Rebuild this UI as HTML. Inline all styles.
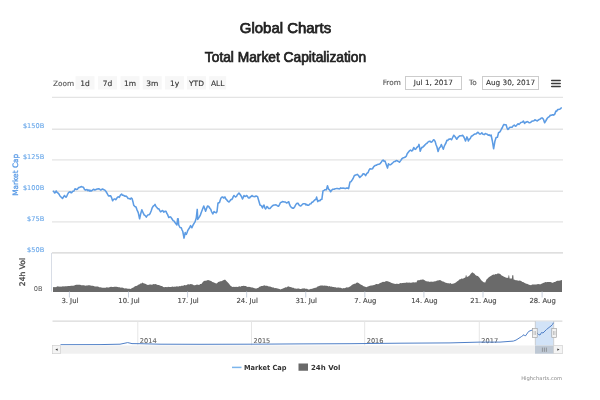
<!DOCTYPE html>
<html><head><meta charset="utf-8"><title>Global Charts</title>
<style>html,body{margin:0;padding:0;background:#fff;width:600px;height:400px;overflow:hidden}svg{display:block}</style>
</head><body>
<svg width="600" height="400" viewBox="0 0 600 400">
<text x="285.5" y="32.6" text-anchor="middle" font-family='"Liberation Sans", Arial, sans-serif' font-size="14.95" fill="#222" stroke="#222" stroke-width="0.75">Global Charts</text>
<text x="285.5" y="62.4" text-anchor="middle" font-family='"Liberation Sans", Arial, sans-serif' font-size="13.75" fill="#222" stroke="#222" stroke-width="0.7">Total Market Capitalization</text>
<text x="53" y="85.7" font-family='"DejaVu Sans", "Liberation Sans", sans-serif' font-size="7.3" fill="#555" stroke="#555" stroke-width="0.12">Zoom</text>
<rect x="75.5" y="76.2" width="19" height="13.3" fill="#f7f7f7"/>
<text x="85.0" y="85.7" text-anchor="middle" font-family='"DejaVu Sans", "Liberation Sans", sans-serif' font-size="7.5" fill="#333" stroke="#333" stroke-width="0.12">1d</text>
<rect x="98" y="76.2" width="19" height="13.3" fill="#f7f7f7"/>
<text x="107.5" y="85.7" text-anchor="middle" font-family='"DejaVu Sans", "Liberation Sans", sans-serif' font-size="7.5" fill="#333" stroke="#333" stroke-width="0.12">7d</text>
<rect x="120.5" y="76.2" width="19" height="13.3" fill="#f7f7f7"/>
<text x="130.0" y="85.7" text-anchor="middle" font-family='"DejaVu Sans", "Liberation Sans", sans-serif' font-size="7.5" fill="#333" stroke="#333" stroke-width="0.12">1m</text>
<rect x="142.7" y="76.2" width="19" height="13.3" fill="#f7f7f7"/>
<text x="152.2" y="85.7" text-anchor="middle" font-family='"DejaVu Sans", "Liberation Sans", sans-serif' font-size="7.5" fill="#333" stroke="#333" stroke-width="0.12">3m</text>
<rect x="165" y="76.2" width="19" height="13.3" fill="#f7f7f7"/>
<text x="174.5" y="85.7" text-anchor="middle" font-family='"DejaVu Sans", "Liberation Sans", sans-serif' font-size="7.5" fill="#333" stroke="#333" stroke-width="0.12">1y</text>
<rect x="187" y="76.2" width="19" height="13.3" fill="#f7f7f7"/>
<text x="196.5" y="85.7" text-anchor="middle" font-family='"DejaVu Sans", "Liberation Sans", sans-serif' font-size="7.5" fill="#333" stroke="#333" stroke-width="0.12">YTD</text>
<rect x="209.2" y="76.2" width="17" height="13.3" fill="#f7f7f7"/>
<text x="217.7" y="85.7" text-anchor="middle" font-family='"DejaVu Sans", "Liberation Sans", sans-serif' font-size="7.5" fill="#333" stroke="#333" stroke-width="0.12">ALL</text>
<text x="382.7" y="85.2" font-family='"DejaVu Sans", "Liberation Sans", sans-serif' font-size="7.3" fill="#555" stroke="#555" stroke-width="0.12">From</text>
<rect x="405.5" y="76.5" width="56" height="13" fill="#fff" stroke="#ccc" stroke-width="1"/>
<text x="433.3" y="85.2" text-anchor="middle" font-family='"DejaVu Sans", "Liberation Sans", sans-serif' font-size="7.3" fill="#333" stroke="#333" stroke-width="0.1">Jul 1, 2017</text>
<text x="469" y="85.2" font-family='"DejaVu Sans", "Liberation Sans", sans-serif' font-size="7.3" fill="#555" stroke="#555" stroke-width="0.12">To</text>
<rect x="482.5" y="76.5" width="56" height="13" fill="#fff" stroke="#ccc" stroke-width="1"/>
<text x="510.5" y="85.2" text-anchor="middle" font-family='"DejaVu Sans", "Liberation Sans", sans-serif' font-size="7.3" fill="#333" stroke="#333" stroke-width="0.1">Aug 30, 2017</text>
<line x1="551.7" x2="560.2" y1="80.5" y2="80.5" stroke="#3a3a3a" stroke-width="1.5" stroke-linecap="round"/>
<line x1="551.7" x2="560.2" y1="83.5" y2="83.5" stroke="#3a3a3a" stroke-width="1.5" stroke-linecap="round"/>
<line x1="551.7" x2="560.2" y1="86.5" y2="86.5" stroke="#3a3a3a" stroke-width="1.5" stroke-linecap="round"/>
<line x1="52" x2="563" y1="97.3" y2="97.3" stroke="#e4e4e4" stroke-width="1.3"/>
<line x1="52" x2="563" y1="129.25" y2="129.25" stroke="#e4e4e4" stroke-width="1.3"/>
<line x1="52" x2="563" y1="159.9" y2="159.9" stroke="#e4e4e4" stroke-width="1.3"/>
<line x1="52" x2="563" y1="191.25" y2="191.25" stroke="#e4e4e4" stroke-width="1.3"/>
<line x1="52" x2="563" y1="221.9" y2="221.9" stroke="#e4e4e4" stroke-width="1.3"/>
<line x1="52" x2="563" y1="252.9" y2="252.9" stroke="#d4d4d4" stroke-width="1.4"/>
<text x="44.2" y="127.85" text-anchor="end" font-family='"DejaVu Sans", "Liberation Sans", sans-serif' font-size="6.6" fill="#6aa8ea" stroke="#6aa8ea" stroke-width="0.1">$150B</text>
<text x="44.2" y="158.50" text-anchor="end" font-family='"DejaVu Sans", "Liberation Sans", sans-serif' font-size="6.6" fill="#6aa8ea" stroke="#6aa8ea" stroke-width="0.1">$125B</text>
<text x="44.2" y="189.85" text-anchor="end" font-family='"DejaVu Sans", "Liberation Sans", sans-serif' font-size="6.6" fill="#6aa8ea" stroke="#6aa8ea" stroke-width="0.1">$100B</text>
<text x="44.2" y="220.50" text-anchor="end" font-family='"DejaVu Sans", "Liberation Sans", sans-serif' font-size="6.6" fill="#6aa8ea" stroke="#6aa8ea" stroke-width="0.1">$75B</text>
<text x="44.2" y="251.50" text-anchor="end" font-family='"DejaVu Sans", "Liberation Sans", sans-serif' font-size="6.6" fill="#6aa8ea" stroke="#6aa8ea" stroke-width="0.1">$50B</text>
<text transform="translate(17.6 174.8) rotate(-90)" text-anchor="middle" font-family='"DejaVu Sans", "Liberation Sans", sans-serif' font-size="7.4" fill="#5a9be6" stroke="#5a9be6" stroke-width="0.3">Market Cap</text>
<text transform="translate(24.8 272) rotate(-90)" text-anchor="middle" font-family='"DejaVu Sans", "Liberation Sans", sans-serif' font-size="7.6" fill="#444" stroke="#444" stroke-width="0.3">24h Vol</text>
<text x="42.5" y="290.5" text-anchor="end" font-family='"DejaVu Sans", "Liberation Sans", sans-serif' font-size="6.6" fill="#555">0B</text>
<line x1="51.5" x2="51.5" y1="252.9" y2="291.6" stroke="#d8dde6" stroke-width="1"/>
<polygon points="53.00,287.00 54.00,287.27 55.00,286.90 56.00,287.13 57.00,286.43 58.00,286.37 59.00,286.81 60.00,286.50 61.00,286.63 62.00,286.54 63.00,286.25 64.00,286.41 65.00,286.30 66.00,286.31 67.00,286.24 68.00,285.88 69.00,286.01 70.00,286.00 71.07,285.71 72.13,285.72 73.20,285.70 74.27,285.45 75.33,284.95 76.40,284.70 77.33,284.76 78.27,284.74 79.20,284.68 80.13,284.77 81.07,285.18 82.00,285.30 83.06,285.21 84.12,285.29 85.19,285.69 86.25,285.47 87.31,285.53 88.38,285.34 89.44,285.23 90.50,285.60 91.58,285.63 92.67,285.65 93.75,286.06 94.83,286.55 95.92,286.47 97.00,286.50 98.08,286.49 99.17,287.21 100.25,287.36 101.33,287.53 102.42,287.87 103.50,287.80 104.58,287.85 105.67,287.74 106.75,287.30 107.83,287.60 108.92,287.46 110.00,287.00 111.08,286.71 112.17,287.08 113.25,287.00 114.33,286.77 115.42,286.77 116.50,286.70 117.58,286.88 118.67,287.36 119.75,287.25 120.83,287.67 121.92,287.51 123.00,287.80 123.95,288.22 124.90,288.38 125.85,288.22 126.80,288.45 127.75,288.84 128.70,288.86 129.65,288.84 130.60,289.00 131.68,288.21 132.76,287.68 133.84,287.34 134.92,286.37 136.00,286.00 137.08,285.72 138.17,284.70 139.25,284.59 140.33,283.60 141.42,283.49 142.50,282.60 143.42,283.14 144.33,283.40 145.25,283.81 146.17,284.31 147.08,284.66 148.00,285.00 148.94,284.73 149.88,284.52 150.81,284.60 151.75,284.75 152.69,284.40 153.62,283.88 154.56,284.26 155.50,283.90 156.62,284.46 157.75,284.99 158.88,284.88 160.00,285.50 161.05,286.12 162.10,286.09 163.15,286.96 164.20,287.30 165.17,287.07 166.13,286.98 167.10,287.36 168.07,286.76 169.03,286.98 170.00,286.90 170.97,287.10 171.93,286.63 172.90,286.56 173.87,286.99 174.83,286.62 175.80,286.79 176.77,286.26 177.73,286.45 178.70,286.50 179.78,286.05 180.87,286.19 181.95,285.56 183.03,285.95 184.12,285.08 185.20,285.20 186.28,285.14 187.36,284.42 188.44,284.37 189.52,284.54 190.60,284.10 191.67,284.23 192.73,284.61 193.80,285.20 194.85,285.23 195.90,284.92 196.95,284.58 198.00,284.80 199.13,284.91 200.27,284.09 201.40,284.10 202.50,282.38 203.60,281.30 204.68,280.87 205.75,280.73 206.82,280.49 207.90,280.00 209.00,280.20 210.10,280.84 211.20,281.10 212.30,281.90 213.38,282.24 214.45,282.84 215.53,283.19 216.60,283.40 217.35,282.93 218.10,281.90 219.20,281.78 220.30,281.30 221.30,281.24 222.30,280.82 223.30,280.35 224.30,279.87 225.30,279.75 226.35,280.94 227.40,281.90 228.33,283.00 229.27,284.09 230.20,285.60 231.07,286.00 231.93,286.73 232.80,286.90 233.90,286.64 235.00,286.96 236.10,286.83 237.20,286.90 238.28,286.73 239.37,286.28 240.45,286.67 241.53,286.00 242.62,286.06 243.70,285.80 244.77,286.02 245.85,286.01 246.93,286.67 248.00,286.90 248.95,286.84 249.90,286.96 250.85,287.14 251.80,287.41 252.75,287.55 253.70,288.12 254.65,288.22 255.60,288.40 256.57,288.38 257.53,287.99 258.50,287.68 259.47,286.79 260.43,286.58 261.40,286.09 262.37,285.97 263.33,285.64 264.30,285.20 265.24,285.67 266.18,285.87 267.11,285.82 268.05,286.20 268.99,286.53 269.93,286.43 270.86,286.71 271.80,287.30 272.77,287.48 273.73,287.52 274.70,288.19 275.67,288.10 276.63,288.24 277.60,288.54 278.57,288.82 279.53,289.06 280.50,289.50 281.45,289.11 282.40,288.68 283.35,288.17 284.30,288.00 285.25,287.30 286.20,287.38 287.15,287.02 288.10,286.30 289.18,286.81 290.27,286.95 291.35,287.36 292.43,287.76 293.52,287.74 294.60,288.40 295.68,288.46 296.76,288.66 297.84,288.54 298.92,288.60 300.00,289.00 301.07,289.04 302.15,288.56 303.23,288.49 304.30,288.30 305.24,288.84 306.18,288.86 307.12,288.87 308.06,289.60 309.00,289.50 310.00,289.17 311.00,288.68 312.00,288.91 313.00,288.26 314.00,288.30 314.96,287.76 315.91,287.74 316.87,287.22 317.83,286.36 318.79,286.27 319.74,285.84 320.70,285.50 321.70,285.56 322.70,285.44 323.70,285.78 324.70,285.49 325.70,285.71 326.70,285.84 327.70,286.00 328.70,286.48 329.70,286.05 330.70,286.69 331.70,286.47 332.70,286.91 333.70,286.95 334.70,287.20 335.70,287.33 336.70,287.69 337.70,287.60 338.70,287.56 339.70,287.72 340.70,287.85 341.70,288.30 342.70,288.39 343.70,288.08 344.70,288.15 345.70,287.81 346.70,287.18 347.70,287.47 348.70,287.20 349.57,286.79 350.45,286.16 351.32,285.40 352.20,284.80 353.26,284.24 354.32,283.85 355.38,283.63 356.44,282.80 357.50,282.50 358.54,283.12 359.58,283.68 360.62,284.62 361.66,285.11 362.70,285.50 363.57,286.23 364.45,286.59 365.32,286.63 366.20,287.20 367.16,286.67 368.12,286.51 369.08,286.01 370.04,285.79 371.00,285.50 372.00,285.40 373.00,285.34 374.00,284.89 375.00,284.82 376.00,284.09 377.00,284.05 378.00,284.27 379.00,283.70 380.00,283.05 381.00,282.84 382.00,282.20 383.00,281.81 384.00,281.98 385.00,281.64 386.00,280.90 386.94,281.32 387.88,281.28 388.82,281.72 389.76,281.99 390.70,282.50 391.62,282.94 392.54,283.27 393.46,283.42 394.38,283.80 395.30,284.10 396.28,283.68 397.27,283.83 398.25,283.96 399.23,283.68 400.22,283.07 401.20,283.20 402.17,283.09 403.13,283.12 404.10,282.68 405.07,283.01 406.03,282.59 407.00,282.50 408.03,282.64 409.07,282.43 410.10,282.85 411.13,282.70 412.17,282.55 413.20,282.25 414.23,282.46 415.27,282.17 416.30,282.50 417.50,280.20 418.47,280.15 419.43,280.23 420.40,279.63 421.37,279.74 422.33,279.60 423.30,279.50 424.18,279.88 425.05,280.55 425.93,281.16 426.80,281.30 427.84,281.54 428.88,281.48 429.92,281.92 430.96,281.58 432.00,281.80 433.00,281.75 434.00,281.46 435.00,281.31 436.00,281.15 437.00,280.48 438.00,280.53 439.00,280.16 440.00,280.00 441.00,280.62 442.00,281.33 443.00,281.59 444.00,281.66 445.00,282.50 445.94,282.63 446.88,282.96 447.81,283.24 448.75,283.23 449.69,283.50 450.62,283.10 451.56,283.90 452.50,283.75 453.75,283.59 455.00,283.10 456.15,282.27 457.30,281.30 458.50,280.53 459.70,279.20 460.57,279.27 461.45,278.52 462.32,278.82 463.20,278.40 464.35,278.01 465.50,277.25 465.80,275.30 466.40,275.30 466.90,277.25 467.95,276.46 469.00,276.10 469.88,275.10 470.75,273.75 471.52,273.04 472.30,272.20 473.70,273.20 474.55,273.83 475.40,274.90 476.57,275.71 477.75,276.10 478.62,276.70 479.50,277.80 480.38,279.08 481.25,280.20 482.43,281.20 483.60,282.30 484.35,282.33 485.10,282.70 486.50,279.60 487.65,278.47 488.80,277.25 490.00,276.45 491.20,275.70 492.35,274.94 493.50,274.60 494.47,274.83 495.43,274.10 496.40,274.30 497.57,273.50 498.75,273.40 499.62,273.84 500.50,274.30 501.65,275.44 502.80,276.10 504.00,276.79 505.20,277.25 506.17,277.71 507.13,277.81 508.10,278.10 508.60,275.30 509.10,275.30 509.60,278.40 510.80,278.62 512.00,278.60 512.20,275.30 513.30,275.30 513.60,279.60 514.65,279.78 515.70,280.20 516.67,280.22 517.63,280.57 518.60,280.75 519.57,280.60 520.53,280.82 521.50,281.30 522.38,281.93 523.25,281.97 524.12,282.83 525.00,283.10 526.00,283.68 527.00,283.79 528.00,284.36 529.00,284.82 530.00,285.00 531.04,285.17 532.08,284.58 533.12,284.51 534.17,284.58 535.21,284.56 536.25,284.50 537.19,284.28 538.12,284.01 539.06,284.32 540.00,284.20 540.92,284.18 541.83,283.41 542.75,283.18 543.67,282.72 544.58,282.41 545.50,282.10 546.46,282.32 547.42,281.89 548.38,282.08 549.34,281.93 550.30,281.90 551.20,282.23 552.10,282.79 553.00,282.80 554.05,281.99 555.10,282.00 556.15,281.13 557.20,280.75 558.16,280.72 559.12,280.70 560.08,280.47 561.04,280.16 562.00,280.10 562,292 53,292" fill="#6a6a6a"/>
<polyline points="53.00,191.00 53.75,191.45 54.50,193.00 55.35,192.52 56.20,191.00 57.10,192.40 58.00,193.00 59.00,194.13 60.00,196.00 61.25,197.24 62.50,198.50 63.50,196.92 64.50,195.50 65.25,196.58 66.00,197.20 66.75,196.28 67.50,194.50 68.50,192.64 69.50,192.00 70.25,191.69 71.00,192.80 71.75,192.65 72.50,191.50 73.25,191.15 74.00,191.00 75.00,188.80 76.25,189.39 77.50,189.20 78.50,187.60 79.50,187.50 80.50,186.92 81.50,186.50 82.25,187.08 83.00,187.00 83.75,187.84 84.50,189.50 85.75,190.17 87.00,189.50 88.00,190.67 89.00,189.93 90.00,191.20 90.75,190.39 91.50,191.00 92.50,190.16 93.50,189.20 94.75,190.01 96.00,189.50 97.25,188.97 98.50,188.80 99.50,188.97 100.50,190.00 101.50,189.72 102.50,188.96 103.50,189.50 104.75,190.08 106.00,191.50 107.25,193.66 108.50,196.00 109.60,195.87 110.70,195.75 111.65,197.87 112.60,200.80 113.35,199.55 114.10,199.10 114.92,198.98 115.75,199.70 116.78,198.24 117.80,196.90 118.55,196.83 119.30,197.40 120.45,195.03 121.60,194.10 122.47,195.16 123.33,195.28 124.20,195.75 125.13,196.35 126.07,196.05 127.00,196.90 128.12,198.49 129.25,198.60 130.20,199.14 131.15,198.03 132.10,198.60 132.93,201.70 133.75,205.30 134.88,206.48 136.00,207.00 137.12,210.12 138.25,212.60 139.60,218.80 140.70,213.75 141.85,209.80 143.30,213.20 144.15,214.95 145.00,215.40 146.30,217.10 147.05,215.88 147.80,214.90 148.90,214.82 150.00,213.75 151.15,210.93 152.30,207.60 153.20,206.24 154.10,205.60 155.00,204.40 155.95,206.52 156.90,207.50 157.82,208.64 158.75,208.75 159.68,210.33 160.60,211.90 161.43,211.38 162.25,210.60 163.00,210.73 163.75,212.25 164.88,211.36 166.00,211.25 166.75,213.27 167.50,214.40 168.75,217.50 169.68,217.07 170.60,216.90 171.90,218.75 173.10,220.60 174.05,221.06 175.00,222.50 175.95,223.82 176.90,225.00 177.60,218.75 178.20,218.75 178.70,225.00 180.00,227.50 181.25,227.75 182.00,229.80 182.75,231.25 184.00,238.10 185.25,232.50 186.25,234.40 187.00,232.76 187.75,230.60 188.57,229.16 189.40,228.10 190.60,225.60 191.90,227.75 193.10,225.00 194.05,223.36 195.00,221.90 196.25,218.10 197.25,209.40 197.75,219.40 198.57,218.16 199.40,216.90 200.32,215.12 201.25,212.50 202.50,209.28 203.75,206.00 204.68,208.46 205.60,211.25 206.55,208.61 207.50,206.00 208.75,206.54 210.00,208.50 210.75,209.32 211.50,211.50 212.80,214.00 214.00,211.50 214.75,212.31 215.50,212.50 216.25,212.72 217.00,211.50 218.00,203.00 218.75,202.89 219.50,202.50 220.25,200.09 221.00,198.00 222.00,197.00 222.75,197.01 223.50,198.00 224.25,197.50 225.00,197.00 225.75,198.97 226.50,199.50 227.75,201.16 229.00,202.00 230.00,200.81 231.00,199.50 231.75,199.54 232.50,198.50 233.25,196.60 234.00,195.50 234.75,196.27 235.50,197.00 236.50,196.43 237.50,194.50 238.25,193.87 239.00,193.00 239.75,193.94 240.50,195.00 241.50,196.65 242.50,199.00 243.25,197.32 244.00,195.50 245.00,196.44 246.00,196.00 246.75,195.51 247.50,196.50 248.25,197.68 249.00,198.00 249.75,197.73 250.50,196.50 251.25,196.58 252.00,195.50 253.00,196.36 254.00,196.50 255.00,196.71 256.00,196.00 256.75,196.28 257.50,196.50 258.25,199.09 259.00,201.50 260.00,205.00 260.75,205.39 261.50,206.00 262.50,208.00 263.25,205.83 264.00,205.00 264.75,207.56 265.50,209.00 266.25,207.85 267.00,206.50 267.75,207.05 268.50,208.50 269.25,208.51 270.00,208.50 271.25,207.10 272.50,205.75 273.38,205.29 274.25,205.02 275.12,205.06 276.00,204.75 277.25,205.69 278.50,206.25 279.50,204.54 280.50,202.50 281.44,202.31 282.38,201.54 283.31,201.72 284.25,202.00 285.38,202.02 286.50,203.00 287.62,202.50 288.75,201.75 289.62,204.67 290.50,206.50 291.50,207.53 292.50,208.11 293.50,208.25 294.75,206.72 296.00,204.25 297.00,203.38 298.00,203.25 299.12,205.14 300.25,206.00 301.12,205.66 302.00,204.80 303.10,203.67 304.20,203.80 305.10,203.68 306.00,205.00 306.80,204.42 307.60,205.30 308.70,205.18 309.80,203.92 310.90,203.80 311.85,202.28 312.80,202.12 313.75,201.00 314.88,199.92 316.00,199.30 316.60,197.10 317.70,201.60 318.80,200.55 319.90,200.80 320.88,199.54 321.85,199.30 323.00,190.90 324.00,190.37 325.00,189.75 326.40,189.80 327.50,185.80 328.60,189.20 329.60,189.98 330.60,191.75 331.75,190.13 332.90,189.20 334.02,189.32 335.13,188.73 336.25,188.60 337.37,188.42 338.48,188.73 339.60,188.85 340.73,187.89 341.87,188.18 343.00,188.10 344.12,188.23 345.25,188.60 346.37,188.13 347.48,188.01 348.60,188.60 350.00,181.90 351.00,181.65 352.00,180.20 353.10,178.50 354.25,175.70 355.50,175.00 356.38,174.72 357.25,174.40 358.50,175.51 359.75,177.50 360.87,176.41 361.98,175.48 363.10,173.75 364.35,173.96 365.60,175.60 366.85,173.33 368.10,172.50 369.05,170.09 370.00,168.75 371.25,169.08 372.50,168.75 373.75,166.67 375.00,165.60 376.25,165.31 377.50,164.40 378.75,164.34 380.00,163.75 381.03,162.57 382.07,160.83 383.10,160.00 384.05,161.21 385.00,161.00 386.25,164.40 387.50,168.10 388.50,163.75 389.55,164.70 390.60,164.75 391.85,163.65 393.10,162.50 394.15,161.45 395.20,161.46 396.25,160.60 397.18,160.77 398.10,161.25 399.40,162.25 400.65,160.61 401.90,158.75 403.15,157.86 404.40,157.50 405.32,157.07 406.25,156.25 407.18,153.71 408.10,152.50 409.35,150.95 410.60,150.00 411.55,151.00 412.50,150.60 413.75,147.50 414.68,149.01 415.60,149.40 416.55,147.86 417.50,146.90 418.25,146.19 419.00,144.40 420.25,151.25 421.00,149.04 421.75,147.40 422.62,147.48 423.50,146.25 424.38,145.74 425.25,144.50 426.12,143.77 427.00,143.30 427.88,142.08 428.75,141.60 429.93,141.16 431.10,142.20 432.25,141.57 433.40,139.80 434.30,140.01 435.20,141.60 436.05,144.68 436.90,146.80 438.10,151.50 439.25,148.00 440.30,146.94 441.35,144.50 442.33,146.96 443.30,149.20 444.20,146.36 445.10,144.50 445.95,143.00 446.80,140.40 447.70,140.54 448.60,139.25 449.45,139.28 450.30,138.70 451.50,139.80 452.65,137.51 453.80,135.20 454.70,136.17 455.60,137.50 456.75,139.25 457.62,137.85 458.50,136.90 459.65,135.88 460.80,135.75 461.70,135.74 462.60,135.20 463.35,136.25 464.10,137.50 465.50,141.00 466.90,136.90 467.65,138.49 468.40,141.00 469.30,139.26 470.20,138.70 471.30,136.30 472.50,135.70 473.70,134.60 474.85,133.99 476.00,134.00 476.88,133.12 477.75,132.25 478.62,132.86 479.50,134.00 480.65,133.96 481.80,132.80 483.00,134.30 484.20,134.60 485.35,133.58 486.50,134.00 487.38,134.15 488.25,135.20 489.20,134.87 490.15,135.80 491.10,135.00 492.40,141.25 493.60,148.75 494.90,141.25 496.10,137.50 497.40,137.25 498.60,132.50 499.55,132.17 500.50,131.00 501.45,129.01 502.40,127.50 503.20,125.52 504.00,124.40 505.05,124.84 506.10,124.75 506.93,127.58 507.75,129.40 508.50,129.22 509.25,127.75 510.18,127.27 511.10,127.25 512.05,127.20 513.00,126.00 514.25,125.00 515.00,125.91 515.75,126.25 516.88,124.98 518.00,123.75 518.95,124.35 519.90,123.50 520.83,122.48 521.75,122.25 522.58,121.96 523.40,121.00 524.60,123.50 525.35,122.25 526.10,122.25 527.05,121.58 528.00,121.90 529.25,122.82 530.50,122.50 531.75,121.32 533.00,121.00 533.95,120.76 534.90,119.75 535.70,120.33 536.50,120.60 537.25,120.94 538.00,120.25 539.00,119.53 540.00,119.20 541.00,118.31 542.00,117.90 542.75,118.39 543.50,119.50 544.60,122.75 546.00,120.50 547.25,118.25 548.70,116.90 549.48,116.63 550.25,115.25 551.38,115.18 552.50,114.80 553.62,115.13 554.75,114.10 555.90,111.10 556.77,111.18 557.63,109.55 558.50,109.60 559.40,109.33 560.30,108.90 561.10,107.91 561.90,108.10" fill="none" stroke="#5d9ce4" stroke-width="1.55" stroke-linejoin="round"/>
<line x1="69.40" x2="69.40" y1="291.6" y2="297.5" stroke="#c9d1dd" stroke-width="1"/>
<text x="69.90" y="303.4" text-anchor="middle" font-family='"DejaVu Sans", "Liberation Sans", sans-serif' font-size="6.85" fill="#505050" stroke="#505050" stroke-width="0.18">3. Jul</text>
<line x1="128.49" x2="128.49" y1="291.6" y2="297.5" stroke="#c9d1dd" stroke-width="1"/>
<text x="128.99" y="303.4" text-anchor="middle" font-family='"DejaVu Sans", "Liberation Sans", sans-serif' font-size="6.85" fill="#505050" stroke="#505050" stroke-width="0.18">10. Jul</text>
<line x1="187.57" x2="187.57" y1="291.6" y2="297.5" stroke="#c9d1dd" stroke-width="1"/>
<text x="188.07" y="303.4" text-anchor="middle" font-family='"DejaVu Sans", "Liberation Sans", sans-serif' font-size="6.85" fill="#505050" stroke="#505050" stroke-width="0.18">17. Jul</text>
<line x1="246.66" x2="246.66" y1="291.6" y2="297.5" stroke="#c9d1dd" stroke-width="1"/>
<text x="247.16" y="303.4" text-anchor="middle" font-family='"DejaVu Sans", "Liberation Sans", sans-serif' font-size="6.85" fill="#505050" stroke="#505050" stroke-width="0.18">24. Jul</text>
<line x1="305.75" x2="305.75" y1="291.6" y2="297.5" stroke="#c9d1dd" stroke-width="1"/>
<text x="306.25" y="303.4" text-anchor="middle" font-family='"DejaVu Sans", "Liberation Sans", sans-serif' font-size="6.85" fill="#505050" stroke="#505050" stroke-width="0.18">31. Jul</text>
<line x1="364.84" x2="364.84" y1="291.6" y2="297.5" stroke="#c9d1dd" stroke-width="1"/>
<text x="365.34" y="303.4" text-anchor="middle" font-family='"DejaVu Sans", "Liberation Sans", sans-serif' font-size="6.85" fill="#505050" stroke="#505050" stroke-width="0.18">7. Aug</text>
<line x1="423.92" x2="423.92" y1="291.6" y2="297.5" stroke="#c9d1dd" stroke-width="1"/>
<text x="424.42" y="303.4" text-anchor="middle" font-family='"DejaVu Sans", "Liberation Sans", sans-serif' font-size="6.85" fill="#505050" stroke="#505050" stroke-width="0.18">14. Aug</text>
<line x1="483.01" x2="483.01" y1="291.6" y2="297.5" stroke="#c9d1dd" stroke-width="1"/>
<text x="483.51" y="303.4" text-anchor="middle" font-family='"DejaVu Sans", "Liberation Sans", sans-serif' font-size="6.85" fill="#505050" stroke="#505050" stroke-width="0.18">21. Aug</text>
<line x1="542.10" x2="542.10" y1="291.6" y2="297.5" stroke="#c9d1dd" stroke-width="1"/>
<text x="542.60" y="303.4" text-anchor="middle" font-family='"DejaVu Sans", "Liberation Sans", sans-serif' font-size="6.85" fill="#505050" stroke="#505050" stroke-width="0.18">28. Aug</text>
<line x1="52.5" x2="562.4" y1="321.1" y2="321.1" stroke="#cfcfcf" stroke-width="1"/>
<line x1="137.8" x2="137.8" y1="321.5" y2="345.5" stroke="#e6e6e6" stroke-width="1"/>
<text x="139.8" y="342.6" font-family='"DejaVu Sans", "Liberation Sans", sans-serif' font-size="6.6" fill="#666" stroke="#666" stroke-width="0.12">2014</text>
<line x1="251.5" x2="251.5" y1="321.5" y2="345.5" stroke="#e6e6e6" stroke-width="1"/>
<text x="253.5" y="342.6" font-family='"DejaVu Sans", "Liberation Sans", sans-serif' font-size="6.6" fill="#666" stroke="#666" stroke-width="0.12">2015</text>
<line x1="364.7" x2="364.7" y1="321.5" y2="345.5" stroke="#e6e6e6" stroke-width="1"/>
<text x="366.7" y="342.6" font-family='"DejaVu Sans", "Liberation Sans", sans-serif' font-size="6.6" fill="#666" stroke="#666" stroke-width="0.12">2016</text>
<line x1="479.3" x2="479.3" y1="321.5" y2="345.5" stroke="#e6e6e6" stroke-width="1"/>
<text x="481.3" y="342.6" font-family='"DejaVu Sans", "Liberation Sans", sans-serif' font-size="6.6" fill="#666" stroke="#666" stroke-width="0.12">2017</text>
<rect x="535" y="321.5" width="18.7" height="24" fill="#d2e3f7"/>
<path d="M535.3 321 V345.5 M553.7 321 V345.5" stroke="#c8c8c8" stroke-width="0.8" fill="none"/>
<polyline points="60.5,344.3 100,344.2 120,343.8 127.7,342.2 132,343.2 140,343.3 160,343.8 200,343.9 250,343.8 300,343.5 350,343.3 400,342.8 450,342.5 480,341.7 500,341.7 513.3,340.7 516,339.7 521.3,336.3 524,334.3 525.3,335.7 528.7,331 532,329.7 535.3,329.8 537,332.6 538.5,334.1 540,334.6 541.5,332.1 543,332.6 545,330.6 546.5,329.1 549,327.1 551,325.6 552.5,324.1 553.5,322.3" fill="none" stroke="#4f7fc7" stroke-width="1" transform="translate(0 0.4)"/>
<rect x="52.5" y="345.5" width="510" height="8.2" fill="#f0f0f0"/>
<rect x="52.5" y="345.5" width="8" height="8.2" fill="#f4f4f4" stroke="#ccc" stroke-width="0.6"/>
<path d="M57.6 348.4 L55.4 349.6 L57.6 350.8 Z" fill="#333"/>
<rect x="535" y="345.5" width="18.7" height="8.2" fill="#bec8d4"/>
<path d="M542.4 347.6 v4.2 M544.4 347.6 v4.2 M546.4 347.6 v4.2" stroke="#707070" stroke-width="0.6"/>
<rect x="553.7" y="345.5" width="8.7" height="8.2" fill="#f4f4f4" stroke="#ccc" stroke-width="0.6"/>
<path d="M557.3 348.4 L559.5 349.6 L557.3 350.8 Z" fill="#333"/>
<rect x="532.4" y="328.3" width="4.8" height="9.4" fill="#f2f2f2" stroke="#999" stroke-width="0.6"/>
<path d="M534.0999999999999 331 v4 M535.5 331 v4" stroke="#999" stroke-width="0.5"/>
<rect x="551.8000000000001" y="328.3" width="4.8" height="9.4" fill="#f2f2f2" stroke="#999" stroke-width="0.6"/>
<path d="M553.5 331 v4 M554.9000000000001 331 v4" stroke="#999" stroke-width="0.5"/>
<line x1="232" x2="241.5" y1="367.4" y2="367.4" stroke="#7cb5ec" stroke-width="1.5"/>
<text x="244" y="370.3" font-family='"DejaVu Sans", "Liberation Sans", sans-serif' font-size="7" font-weight="700" fill="#333" textLength="42.5" lengthAdjust="spacingAndGlyphs">Market Cap</text>
<rect x="298.5" y="363.5" width="9.5" height="7.25" fill="#696969"/>
<text x="311" y="370.3" font-family='"DejaVu Sans", "Liberation Sans", sans-serif' font-size="7" font-weight="700" fill="#333">24h Vol</text>
<text x="562" y="380" text-anchor="end" font-family='"DejaVu Sans", "Liberation Sans", sans-serif' font-size="5.2" fill="#888">Highcharts.com</text>
</svg>
</body></html>
